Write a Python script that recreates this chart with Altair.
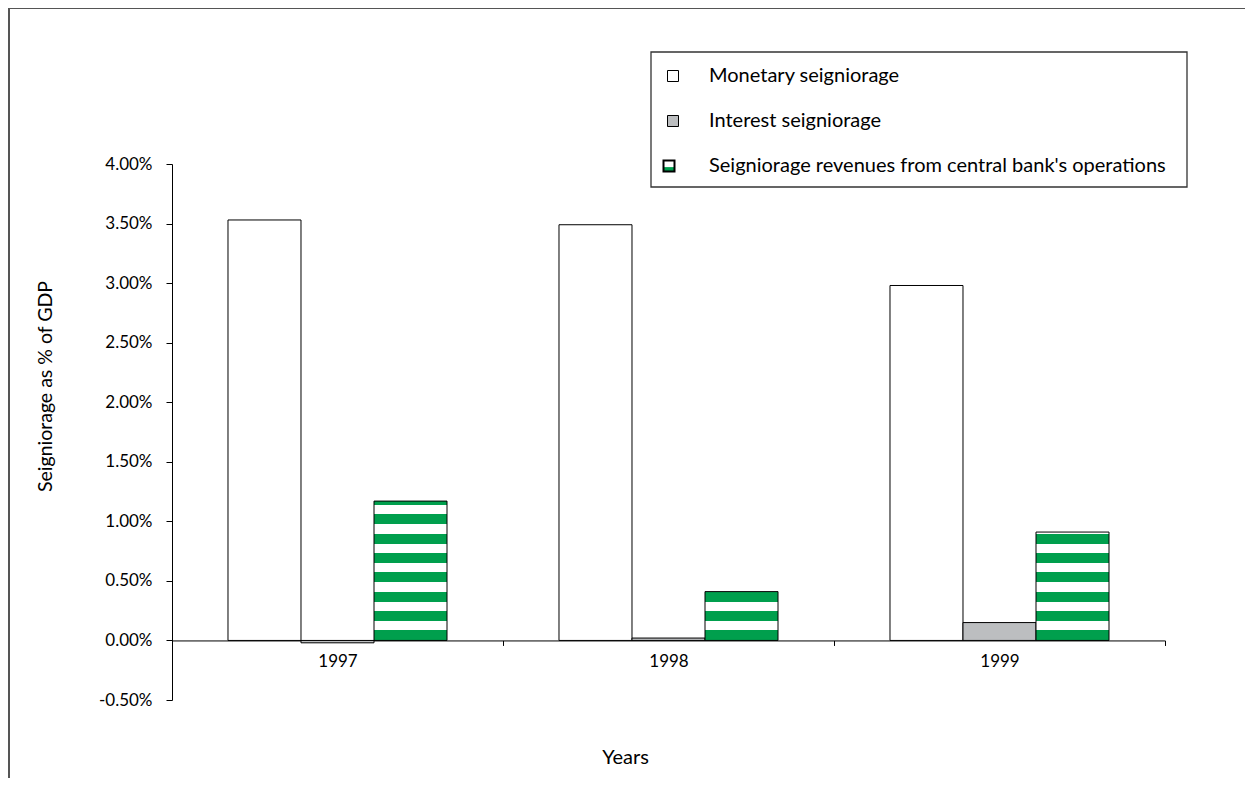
import altair as alt
import pandas as pd

years = ["1997", "1998", "1999"]
series = [
    "Monetary seigniorage",
    "Interest seigniorage",
    "Seigniorage revenues from central bank's operations",
]
monetary = [0.0353, 0.0349, 0.0298]
interest = [-0.0002, 0.0002, 0.0015]
operations = [0.0117, 0.0041, 0.0091]
y_ticks = [-0.005, 0.0, 0.005, 0.01, 0.015, 0.02, 0.025, 0.03, 0.035, 0.04]

FONT = "Lato"
GREEN = "#009f4d"
GRAY = "#bcbec0"

rows = []
for i, yr in enumerate(years):
    rows.append({"year": yr, "series": series[0], "value": monetary[i]})
    rows.append({"year": yr, "series": series[1], "value": interest[i]})
    rows.append({"year": yr, "series": series[2], "value": operations[i]})
df = pd.DataFrame(rows)

# stripe styling (fixed pitch, green band at the bottom)
PERIOD = 0.001625
GREEN_PART = 0.00084


def stripes(v):
    bands = []  # (colour, lower, upper) measured from the bottom
    d = 0.0
    col = GREEN
    while d < v - 1e-9:
        nxt = min(d + (GREEN_PART if col == GREEN else PERIOD - GREEN_PART), v)
        bands.append((col, d, nxt))
        d = nxt
        col = "white" if col == GREEN else GREEN
    stops = []
    for col, lo, hi in reversed(bands):  # top to bottom
        stops.append(alt.GradientStop(color=col, offset=1 - hi / v))
        stops.append(alt.GradientStop(color=col, offset=1 - lo / v))
    return alt.Gradient(gradient="linear", stops=stops, x1=0, x2=0, y1=0, y2=1)


x_enc = alt.X(
    "year:N",
    scale=alt.Scale(domain=years, paddingInner=0, paddingOuter=0),
    axis=alt.Axis(
        title="Years",
        labelAngle=0,
        offset=-59.56,
        tickBand="extent",
        tickSize=5,
        tickColor="black",
        domainColor="black",
        labelPadding=8,
        labelFontSize=17,
        labelFont=FONT,
        labelColor="black",
        titleFont=FONT,
        titleFontSize=20,
        titleFontWeight="normal",
        titleColor="black",
        titleX=453,
        titleY=117,
        titleBaseline="middle",
    ),
)
xo_enc = alt.XOffset(
    "series:N",
    scale=alt.Scale(domain=series, paddingInner=0, paddingOuter=0.767),
)
y_enc = alt.Y(
    "value:Q",
    scale=alt.Scale(domain=[-0.005, 0.04], nice=False, zero=False),
    axis=alt.Axis(
        title="Seigniorage as % of GDP",
        values=y_ticks,
        format=".2%",
        labelExpr="replace(datum.label, '\u2212', '-')",
        grid=False,
        tickSize=6,
        tickColor="black",
        domainColor="black",
        labelPadding=14,
        labelFontSize=17,
        labelFont=FONT,
        labelColor="black",
        titleFont=FONT,
        titleFontSize=19.5,
        titleFontWeight="normal",
        titleColor="black",
        titleX=-127,
        titleY=222,
        titleAngle=-90,
        titleBaseline="middle",
    ),
)

LEG_X, LEG_Y, ROW_H, ROW_PAD, SYM = 491, -98, 20, 25, 11

legend = alt.Legend(
    title=None,
    orient="none",
    legendX=LEG_X,
    legendY=LEG_Y,
    direction="vertical",
    symbolType="square",
    symbolSize=SYM * SYM,
    symbolStrokeWidth=1,
    labelFont=FONT,
    labelFontSize=ROW_H,
    labelColor="black",
    labelOffset=26,
    labelLimit=700,
    rowPadding=ROW_PAD,
    padding=0,
)

base_bars = (
    alt.Chart(df)
    .transform_filter(alt.datum.series != series[2])
    .mark_bar(strokeWidth=1, opacity=1)
    .encode(
        x=x_enc,
        xOffset=xo_enc,
        y=y_enc,
        fill=alt.Fill(
            "series:N",
            scale=alt.Scale(domain=series, range=["white", GRAY, "transparent"]),
            legend=legend,
        ),
        stroke=alt.Stroke(
            "series:N",
            scale=alt.Scale(domain=series, range=["black", "black", "transparent"]),
            legend=legend,
        ),
    )
)

ops_layers = []
for i, yr in enumerate(years):
    ops_layers.append(
        alt.Chart(df)
        .transform_filter((alt.datum.series == series[2]) & (alt.datum.year == yr))
        .mark_bar(stroke="black", strokeWidth=1, fill=stripes(operations[i]), opacity=1)
        .encode(x=x_enc, xOffset=xo_enc, y=y_enc)
    )

deco = pd.DataFrame({"f": [0]})
frame = (
    alt.Chart(deco)
    .mark_rect(fill="transparent", stroke="#555555", strokeWidth=2, clip=False)
    .encode(x=alt.value(-163), x2=alt.value(2000), y=alt.value(-156), y2=alt.value(2000))
)
legend_box = (
    alt.Chart(deco)
    .mark_rect(fill="transparent", stroke="#333333", strokeWidth=1.3, clip=False)
    .encode(x=alt.value(479), x2=alt.value(1015), y=alt.value(-112), y2=alt.value(23))
)
# striped-style swatch for the third legend entry
sym_cx = LEG_X + (SYM + 1) / 2
row3_mid = LEG_Y + 2 * (ROW_H + ROW_PAD) + ROW_H / 2
sym_l, sym_r = sym_cx - SYM / 2, sym_cx + SYM / 2
sym_top, sym_bot = row3_mid - SYM / 2, row3_mid + SYM / 2
swatch_green = (
    alt.Chart(deco)
    .mark_rect(fill=GREEN, clip=False)
    .encode(
        x=alt.value(sym_l), x2=alt.value(sym_r),
        y=alt.value(sym_top + SYM * 0.6), y2=alt.value(sym_bot),
    )
)
swatch_edge = (
    alt.Chart(deco)
    .mark_rect(fill="transparent", stroke="black", strokeWidth=2, clip=False)
    .encode(
        x=alt.value(sym_l), x2=alt.value(sym_r),
        y=alt.value(sym_top), y2=alt.value(sym_bot),
    )
)

chart = (
    alt.layer(frame, legend_box, swatch_green, swatch_edge, base_bars, *ops_layers)
    .properties(
        width=993,
        height=536,
        autosize=alt.AutoSizeParams(type="none"),
        padding={"left": 164, "top": 156, "right": 80, "bottom": 78},
        background="white",
    )
    .configure_view(stroke=None)
)

chart.save("out.html", embed_options={"renderer": "svg", "actions": False})
